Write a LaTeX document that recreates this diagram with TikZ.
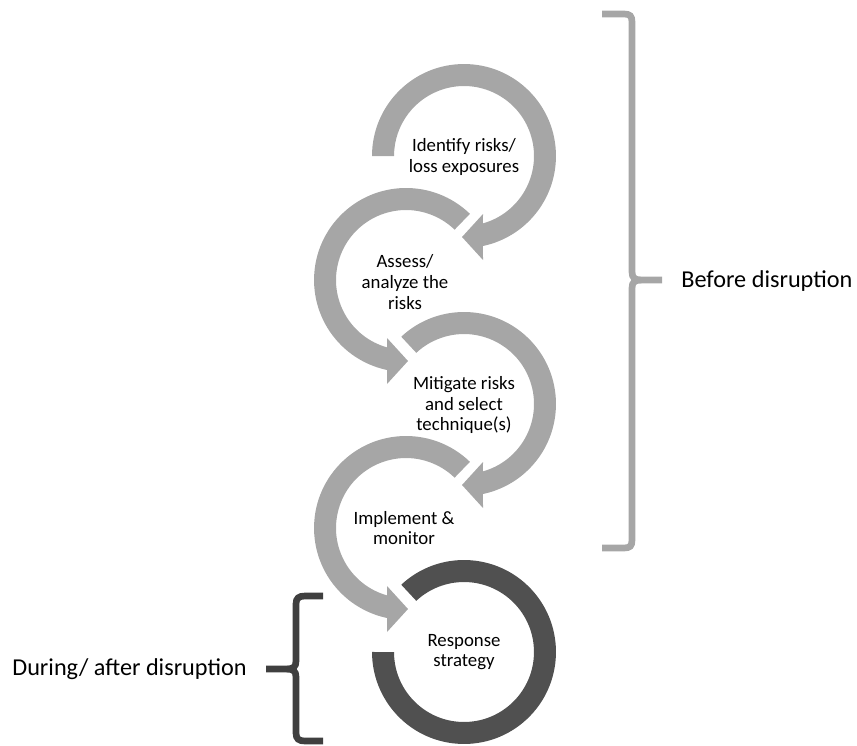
\documentclass[tikz,border=0pt]{standalone}
\usepackage{fontspec}
\setmainfont{Carlito}

\definecolor{ringgray}{HTML}{A6A6A6}
\definecolor{ringdark}{HTML}{505050}
\definecolor{bracedark}{HTML}{3F3F3F}

\tikzset{
  steptext/.style={align=center, font=\fontsize{10.7}{11.7}\selectfont, inner sep=0pt},
  phasetext/.style={font=\fontsize{13.8}{16}\selectfont, inner sep=0pt},
  graybrace/.style={draw=ringgray, line width=3.8pt},
  darkbrace/.style={draw=bracedark, line width=3.8pt}
}

\begin{document}
\begin{tikzpicture}[x=0.02cm,y=0.02cm]
 \useasboundingbox (0,0) rectangle (857,745);

 % centres of the rings
 \coordinate (c1) at (464,589);
 \coordinate (c2) at (406,465);
 \coordinate (c3) at (464,341);
 \coordinate (c4) at (406,217);
 \coordinate (c5) at (464,93);

 % circular arrows
 \fill[ringgray,shift={(c1)}] (180:92) arc (180:-78.1:1.84cm) -- (19,-104) -- (-2,-81) -- (19,-58) -- (-74.3:70) arc (-74.3:180:1.4cm) -- cycle;
 \fill[ringgray,shift={(c2)}] (46:92) arc (46:258.1:1.84cm) -- (-19,-104) -- (2,-81) -- (-19,-58) -- (254.3:70) arc (254.3:46:1.4cm) -- cycle;
 \fill[ringgray,shift={(c3)}] (133:92) arc (133:-78.1:1.84cm) -- (19,-104) -- (-2,-81) -- (19,-58) -- (-74.3:70) arc (-74.3:133:1.4cm) -- cycle;
 \fill[ringgray,shift={(c4)}] (46:92) arc (46:258.1:1.84cm) -- (-19,-104) -- (2,-81) -- (-19,-58) -- (254.3:70) arc (254.3:46:1.4cm) -- cycle;

 % response ring
 \fill[ringdark,shift={(c5)}] (133:92) arc (133:-180:1.84cm) -- (-180:70) arc (-180:133:1.4cm) -- cycle;

 % step texts
 \node[steptext] (identify) at (464,588) {Identify risks/\\loss exposures};
 \node[steptext] (assess) at (405,463) {Assess/\\analyze the\\risks};
 \node[steptext] (mitigate) at (464,340) {Mitigate risks\\and select\\technique(s)};
 \node[steptext] (implement) at (404,217) {Implement \&\\monitor};
 \node[steptext] (response) at (464,93) {Response\\strategy};

 % braces
 \draw[graybrace] (602,731) -- (624,731) .. controls (630,731) and (632,729) .. (632,723) -- (632,473) .. controls (632,467) and (635,465) .. (641,465) -- (662,465);
 \draw[graybrace] (641,465) .. controls (635,465) and (632,463) .. (632,457) -- (632,205) .. controls (632,199) and (630,197) .. (624,197) -- (602,197);

 \draw[darkbrace] (323,149) -- (305,149) .. controls (299,149) and (296,147) .. (296,141) -- (296,84) .. controls (296,78) and (293,76) .. (287,76) -- (266,76);
 \draw[darkbrace] (287,76) .. controls (293,76) and (296,74) .. (296,68) -- (296,12) .. controls (296,6) and (299,4) .. (305,4) -- (323,4);

 % phase labels
 \node[phasetext, anchor=base west] (before) at (681,458) {Before disruption};
 \node[phasetext, anchor=base west] (during) at (12,70) {During/ after disruption};

\end{tikzpicture}
\end{document}
